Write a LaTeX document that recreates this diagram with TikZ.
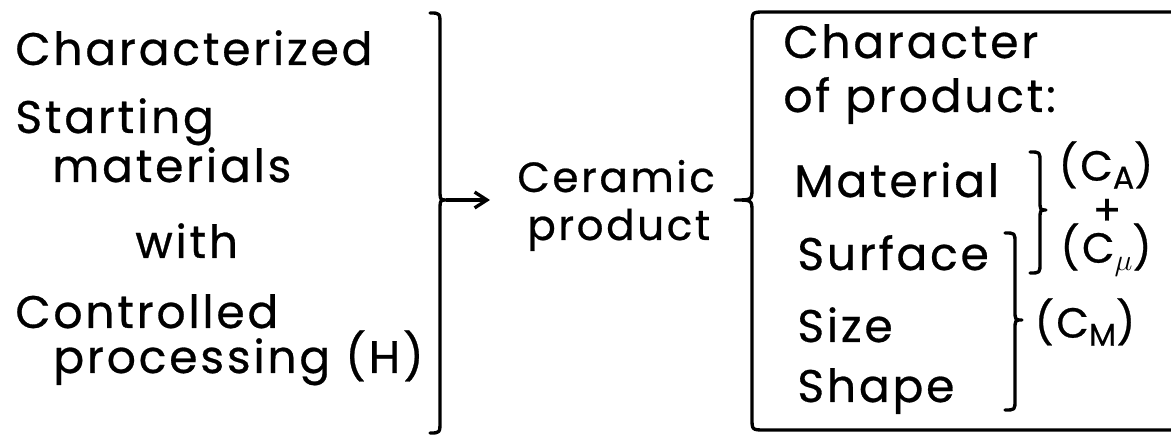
\documentclass[tikz,border=0pt]{standalone}
\usepackage{fontspec}
\setmainfont{Poppins}[LetterSpace=6,FakeBold=0.6]
\usetikzlibrary{arrows.meta}
\tikzset{
  txt/.style={anchor=base west, inner sep=0pt, font=\fontsize{26}{30}\selectfont},
  ctxt/.style={anchor=base west, inner sep=0pt, font=\fontsize{24}{28}\selectfont},
  lbl/.style={anchor=center, inner sep=0pt, font=\fontsize{24}{28}\selectfont},
  brace/.style={line width=1.9pt, line cap=round, line join=round},
  arr/.style={line width=1.9pt, -{Straight Barb[length=7pt,width=9pt,line width=1.9pt]}}
}
\newcommand{\sub}[1]{\raisebox{-0.35ex}{\fontsize{18}{20}\selectfont #1}}
\begin{document}
\begin{tikzpicture}[x=0.02cm,y=-0.02cm]
\useasboundingbox[fill=white] (0,0) rectangle (1171,438);
% left texts
\node[txt] (t1) at (15,65) {Characterized};
\node[txt] (t2) at (15,133) {Starting};
\node[txt] (t3) at (52,182) {materials};
\node[txt] (t4) at (135,258) {with};
\node[txt] (t5) at (15,328) {Controlled};
\node[txt] (t6) at (53,373) {processing (H)};
% left brace
\draw[brace] (430,13) .. controls (440,13) .. (440,25) -- (440,188) .. controls (440,200) .. (446,200)
  .. controls (440,200) .. (440,212) -- (440,421) .. controls (440,433) .. (430,433);
\coordinate (lbtip) at (446,200);
% center
\node[ctxt] (cer) at (517,192) {Ceramic};
\node[ctxt] (prod) at (527,240) {product};
\coordinate (arrend) at (490,200);
\draw[arr] (lbtip) -- (arrend);
% right brace with open box
\draw[brace] (1175,12) -- (765,12) .. controls (752,12) .. (752,25) -- (752,188) .. controls (752,200) .. (735,200)
  .. controls (752,200) .. (752,212) -- (752,418) .. controls (752,430) .. (765,430) -- (1175,430);
% right texts
\node[txt] (r1) at (783,58) {Character};
\node[txt] (r2) at (783,112) {of product:};
\node[txt] (r3) at (794,197) {Material};
\node[txt] (r4) at (797,270) {Surface};
\node[txt] (r5) at (797,342) {Size};
\node[txt] (r6) at (797,402) {Shape};
% small braces
\draw[brace] (1030,152) .. controls (1040,152) .. (1040,162) -- (1040,200) .. controls (1040,210) .. (1046,210)
  .. controls (1040,210) .. (1040,220) -- (1040,263) .. controls (1040,273) .. (1030,273);
\draw[brace] (1005,233) .. controls (1015,233) .. (1015,243) -- (1015,310) .. controls (1015,320) .. (1022,320)
  .. controls (1015,320) .. (1015,330) -- (1015,400) .. controls (1015,410) .. (1005,410);
% labels
\node[lbl] (ca) at (1106,165) {(C\sub{A})};
\node[lbl] (plus) at (1107,212) {+};
\node[lbl] (cmu) at (1106,250) {(C\sub{$\mu$})};
\node[lbl] (cm) at (1085,322) {(C\sub{M})};
\end{tikzpicture}
\end{document}
